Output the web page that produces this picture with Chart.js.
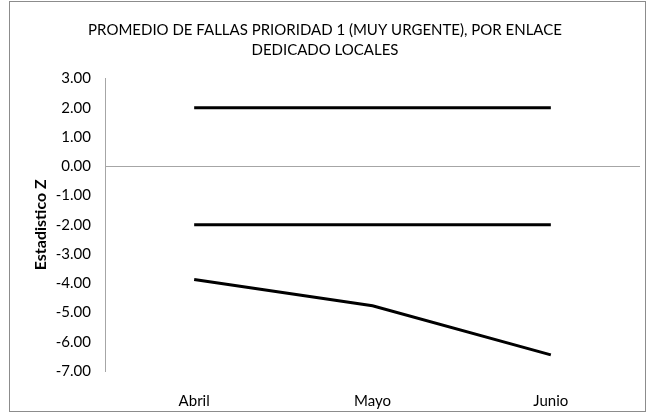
<!DOCTYPE html>
<html>
<head>
<meta charset="utf-8">
<script src="https://cdn.jsdelivr.net/npm/chart.js@4/dist/chart.umd.min.js"></script>
<style>
  html, body { margin: 0; padding: 0; background: #fff; }
  #wrap { position: absolute; left: 9px; top: 1px; width: 635px; height: 409px; border: 1px solid #8c8c8c; }
</style>
</head>
<body>
<div id="wrap"><canvas id="chart"></canvas></div>
<script>
// Datos
const meses = ['Abril', 'Mayo', 'Junio'];
const limiteSuperior = [2, 2, 2];
const limiteInferior = [-2, -2, -2];
const estadisticoZ = [-3.87, -4.77, -6.45];
const yMin = -7;
const yMax = 3;

const fuente = 'Lato, "Liberation Sans", sans-serif';

const lineStyle = {
    borderColor: '#000',
    borderWidth: 3,
    pointRadius: 0,
    tension: 0,
    fill: false,
};

new Chart(document.getElementById('chart'), {
    type: 'line',
    data: {
        labels: meses,
        datasets: [
            { label: 'Limite superior', data: limiteSuperior, ...lineStyle },
            { label: 'Limite inferior', data: limiteInferior, ...lineStyle },
            { label: 'Estadistico Z', data: estadisticoZ, ...lineStyle },
        ],
    },
    options: {
        responsive: true,
        maintainAspectRatio: false,
        animation: false,
        layout: { padding: { left: 0, right: 5, top: 0, bottom: 0 } },
        plugins: {
            legend: { display: false },
            tooltip: { enabled: false },
            title: {
                display: true,
                text: ['PROMEDIO DE FALLAS PRIORIDAD 1 (MUY URGENTE), POR ENLACE', 'DEDICADO LOCALES'],
                color: '#000',
                font: { family: fuente, size: 15, weight: 'normal', lineHeight: 1.35 },
                padding: { top: 18, bottom: 18 },
            },
        },
        scales: {
            x: {
                offset: true,
                grid: { display: false },
                border: { display: false },
                ticks: { color: '#000', padding: 13, font: { family: fuente, size: 15 } },
                afterFit: (s) => { s.height = 40; },
            },
            y: {
                min: yMin,
                max: yMax,
                ticks: {
                    stepSize: 1,
                    color: '#000',
                    padding: 14,
                    font: { family: fuente, size: 15 },
                    callback: (v) => Number(v).toFixed(2),
                },
                grid: {
                    drawTicks: false,
                    color: (ctx) => (ctx.tick && ctx.tick.value === 0 ? '#a6a6a6' : 'transparent'),
                },
                border: { display: true, color: '#a6a6a6', width: 1 },
                title: {
                    display: true,
                    text: 'Estadistico Z',
                    color: '#000',
                    font: { family: fuente, size: 16, weight: 'bold' },
                    padding: { top: 21, bottom: 0 },
                },
                afterFit: (s) => { s.width = 95; },
            },
        },
    },
});
</script>
</body>
</html>
